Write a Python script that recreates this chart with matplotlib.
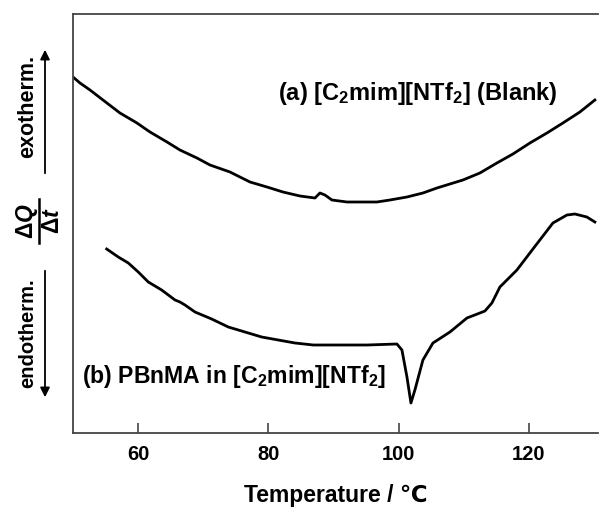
import matplotlib
matplotlib.use("Agg")
import matplotlib.pyplot as plt
from matplotlib.patches import FancyArrowPatch
from matplotlib.lines import Line2D

# DSC traces, heat flow in arbitrary units
temp_a = [50.00, 51.07, 52.61, 54.60, 57.21, 59.82, 61.82, 64.43, 66.42, 69.03, 71.03,
          74.10, 77.17, 79.78, 82.23, 84.84, 87.15, 87.91, 88.68, 89.75, 92.06, 94.05,
          96.66, 98.66, 101.27, 103.72, 105.87, 107.87, 109.86, 112.47, 115.08, 117.54,
          120.15, 122.76, 125.21, 127.82, 130.12]
heat_a = [35.6, 35.0, 34.3, 33.3, 32.0, 31.0, 30.1, 29.1, 28.3, 27.5, 26.8,
          26.1, 25.1, 24.6, 24.1, 23.7, 23.5, 24.0, 23.8, 23.3, 23.1, 23.1,
          23.1, 23.3, 23.6, 24.0, 24.5, 24.9, 25.3, 26.0, 27.0, 27.9,
          29.0, 30.0, 31.0, 32.1, 33.3]

temp_b = [55.17, 56.95, 58.49, 60.02, 61.56, 63.61, 65.66, 66.42, 67.19, 68.73, 71.29,
          73.84, 76.40, 78.96, 81.51, 84.08, 86.88, 89.91, 95.13, 99.73, 100.50, 101.27,
          101.88, 102.49, 103.72, 105.26, 107.87, 110.48, 112.47, 113.24, 114.31, 115.54,
          118.15, 120.61, 123.68, 125.83, 127.05, 128.89, 130.12]
heat_b = [18.4, 17.6, 17.0, 16.1, 15.1, 14.3, 13.3, 13.1, 12.8, 12.1, 11.4,
          10.6, 10.1, 9.6, 9.3, 9.0, 8.8, 8.8, 8.8, 8.9, 8.3, 5.6,
          3.0, 4.3, 7.3, 9.0, 10.1, 11.5, 12.0, 12.2, 13.0, 14.6,
          16.3, 18.4, 21.0, 21.8, 21.9, 21.6, 21.1]

x_ticks = [60, 80, 100, 120]

plt.rcParams["font.family"] = ["Liberation Sans", "DejaVu Sans"]
plt.rcParams["font.weight"] = "bold"
plt.rcParams["mathtext.fontset"] = "custom"
plt.rcParams["mathtext.rm"] = "Liberation Sans:bold"
plt.rcParams["mathtext.bf"] = "Liberation Sans:bold"
plt.rcParams["mathtext.it"] = "Liberation Sans:italic:bold"
plt.rcParams["mathtext.default"] = "bf"

fig = plt.figure(figsize=(5.99, 5.07), dpi=100)
ax = fig.add_axes([73 / 599, 74 / 507, 525 / 599, 419 / 507])

ax.plot(temp_a, heat_a, color="black", lw=2.0, solid_joinstyle="round")
ax.plot(temp_b, heat_b, color="black", lw=2.0, solid_joinstyle="round")

ax.set_xlim(50, 130.6)
ax.set_ylim(0, 41.9)
ax.set_xticks(x_ticks)
ax.set_yticks([])
ax.tick_params(axis="x", direction="in", length=7, width=1.2, color="#444444",
               labelsize=14.5, pad=9)
for side in ["top", "left", "bottom"]:
    ax.spines[side].set_color("#444444")
    ax.spines[side].set_linewidth(1.3)
ax.spines["right"].set_visible(False)

ax.set_xlabel("Temperature / \u2103", fontsize=16.5, fontweight="bold", labelpad=14)

ax.text(0.39, 0.811, r"(a) [C$_2$mim][NTf$_2$] (Blank)", transform=ax.transAxes,
        fontsize=17, fontweight="bold", va="center", ha="left")
ax.text(0.017, 0.134, r"(b) PBnMA in [C$_2$mim][NTf$_2$]", transform=ax.transAxes,
        fontsize=16.6, fontweight="bold", va="center", ha="left")

# y-axis annotation: direction labels with arrows and dQ/dt
fig.text(28 / 599, 1 - 106 / 507, "exotherm.", rotation=90, fontsize=15.5,
         fontweight="bold", ha="center", va="center")
fig.text(28 / 599, 1 - 333 / 507, "endotherm.", rotation=90, fontsize=14.5,
         fontweight="bold", ha="center", va="center")
fig.text(27 / 599, 1 - 221 / 507, "\u0394$\\mathit{Q}$", rotation=90, fontsize=16.5,
         ha="center", va="center")
fig.text(53 / 599, 1 - 221 / 507, "\u0394$\\mathit{t}$", rotation=90, fontsize=16.5,
         ha="center", va="center")
fig.add_artist(Line2D([39 / 599, 39 / 599], [1 - 199 / 507, 1 - 243 / 507],
                      transform=fig.transFigure, color="black", lw=1.8))
arrow = dict(arrowstyle="-|>", color="black", lw=1.3, mutation_scale=14)
fig.add_artist(FancyArrowPatch((45 / 599, 1 - 176 / 507), (45 / 599, 1 - 47 / 507),
                               transform=fig.transFigure, **arrow))
fig.add_artist(FancyArrowPatch((45 / 599, 1 - 268 / 507), (45 / 599, 1 - 400 / 507),
                               transform=fig.transFigure, **arrow))

fig.savefig("out.png", dpi=100)
